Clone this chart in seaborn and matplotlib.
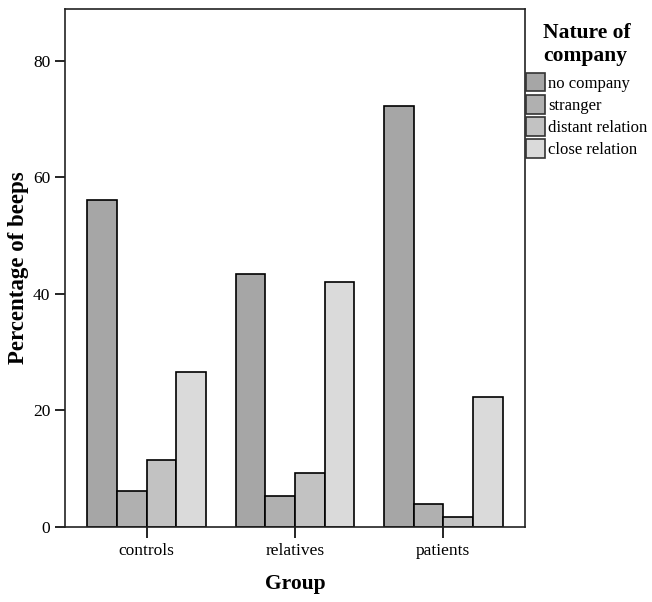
#!/usr/bin/env python3

import pandas as pd
import matplotlib.pyplot as plt
import seaborn as sns

groups = ["controls", "relatives", "patients"]
company = ["no company", "stranger", "distant relation", "close relation"]
no_company = [56.1, 43.5, 72.3]
stranger = [6.1, 5.2, 3.9]
distant_relation = [11.4, 9.3, 1.6]
close_relation = [26.5, 42.1, 22.3]
colors = ["#a6a6a6", "#b0b0b0", "#c2c2c2", "#dadada"]

rows = []
for name, vals in zip(company, [no_company, stranger, distant_relation, close_relation]):
    for g, v in zip(groups, vals):
        rows.append({"Group": g, "company": name, "value": v})
df = pd.DataFrame(rows)

sns.set_style("ticks")
plt.rcParams["font.family"] = ["Liberation Serif", "DejaVu Serif"]
plt.rcParams["text.color"] = "black"
plt.rcParams["axes.labelcolor"] = "black"

fig = plt.figure(figsize=(6.52, 6.02), dpi=100)
ax = fig.add_axes([0.0997, 0.125, 0.7053, 0.8596])

sns.barplot(df, x="Group", y="value", hue="company", order=groups,
            hue_order=company, palette=colors, width=0.8,
            edgecolor="black", linewidth=1.2, saturation=1, ax=ax)

ax.set_xlim(-0.55, 2.55)
ax.set_ylim(0, 88.9)
ax.set_yticks([0, 20, 40, 60, 80])
ax.tick_params(axis="both", direction="out", length=7, width=1.2,
               labelsize=12.5, colors="black")
ax.tick_params(axis="x", length=8)
for s in ax.spines.values():
    s.set_visible(True)
    s.set_linewidth(1.2)
    s.set_color("#222222")

ax.set_ylabel("Percentage of beeps", fontsize=16.5, fontweight="bold", labelpad=3)
ax.set_xlabel("Group", fontsize=15.5, fontweight="bold", labelpad=11)

leg = ax.legend(title="Nature of\ncompany", loc="upper left",
                bbox_to_anchor=(1.003, 0.974), frameon=False, fontsize=12,
                title_fontproperties={"weight": "bold", "size": 15.5},
                handlelength=1.1, handleheight=1.35, handletextpad=0.2,
                labelspacing=0.2, borderaxespad=0, borderpad=0)
leg._legend_box.align = "center"
leg._legend_box.sep = 5
leg.get_title().set_linespacing(1.2)
for h in leg.legend_handles:
    h.set_edgecolor("#333333")

fig.savefig("out.png", dpi=100)
